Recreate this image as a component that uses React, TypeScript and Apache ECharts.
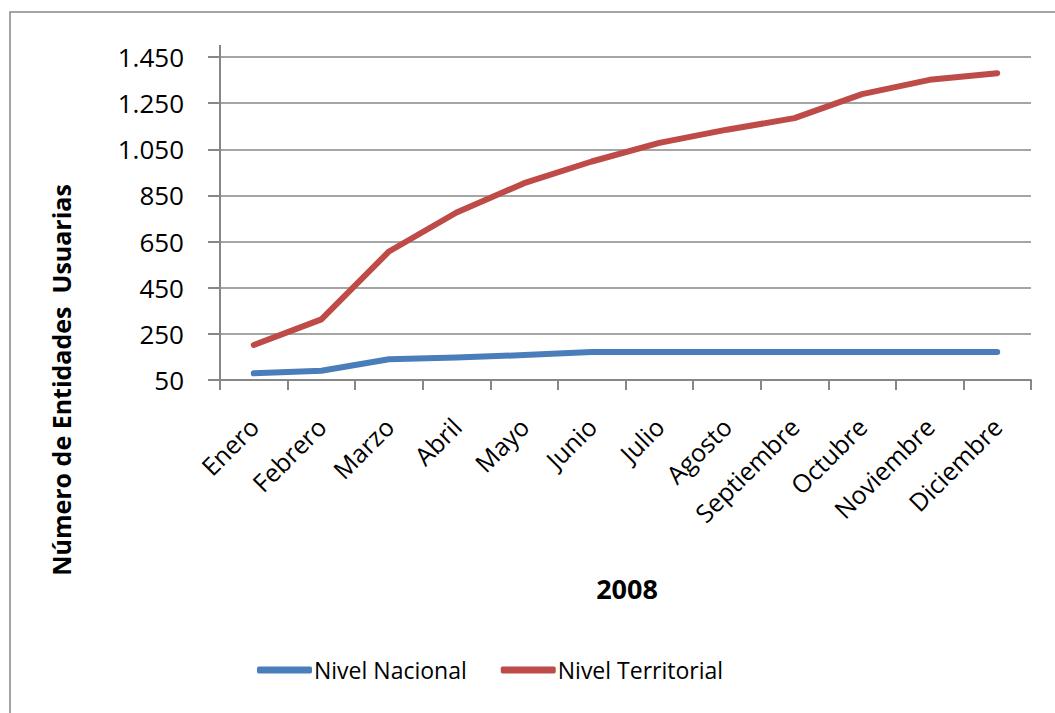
import React, { useEffect, useRef } from "react";
import * as echarts from "echarts";

const months = ["Enero", "Febrero", "Marzo", "Abril", "Mayo", "Junio", "Julio", "Agosto", "Septiembre", "Octubre", "Noviembre", "Diciembre"];
const nacional = [79, 90, 140, 148, 158, 171, 171, 171, 171, 171, 171, 171];
const territorial = [202, 313, 607, 776, 903, 997, 1078, 1135, 1185, 1289, 1351, 1380];
const seriesNames = ["Nivel Nacional", "Nivel Territorial"];
const yMin = 50;
const yMax = 1450;
const yStep = 200;
const yTitle = "Número de Entidades  Usuarias";
const xTitle = "2008";

const FONT = "'Open Sans', sans-serif";
const GRAY = "#878787";

const fmt = (v: number) => String(v).replace(/\B(?=(\d{3})+(?!\d))/g, ".");

export default function App() {
  const ref = useRef<HTMLDivElement>(null);
  useEffect(() => {
    if (!ref.current) return;
    const chart = echarts.init(ref.current, null, { renderer: "svg" });
    chart.setOption({
      animation: false,
      backgroundColor: "#ffffff",
      textStyle: { fontFamily: FONT },
      grid: { left: 220, right: 24, top: 57, bottom: 333, containLabel: false },
      xAxis: {
        type: "category",
        data: months,
        boundaryGap: true,
        axisLine: { lineStyle: { color: GRAY, width: 2 } },
        axisTick: { show: true, length: 10, lineStyle: { color: GRAY, width: 2 } },
        axisLabel: { rotate: 45, margin: 42, color: "#000", fontSize: 25, fontFamily: FONT, interval: 0 },
        splitLine: { show: false },
      },
      yAxis: {
        type: "value",
        min: yMin,
        max: yMax,
        interval: yStep,
        axisLine: { show: true, lineStyle: { color: GRAY, width: 2 } },
        axisTick: { show: true, length: 12, lineStyle: { color: GRAY, width: 2 } },
        axisLabel: { margin: 36, color: "#000", fontSize: 26, fontFamily: FONT, formatter: (v: number) => fmt(v) },
        splitLine: { show: true, lineStyle: { color: GRAY, width: 1.5 } },
      },
      legend: {
        left: 252,
        top: 651,
        itemWidth: 55,
        itemHeight: 7,
        itemGap: 34,
        icon: "roundRect",
        textStyle: { color: "#000", fontSize: 23, fontFamily: FONT, lineHeight: 28, padding: [0, 0, 0, -3] },
        data: seriesNames,
      },
      series: [
        {
          name: seriesNames[0],
          type: "line",
          data: nacional,
          symbol: "none",
          color: "#4a7ebb",
          lineStyle: { width: 6, color: "#4a7ebb", cap: "round", join: "round" },
        },
        {
          name: seriesNames[1],
          type: "line",
          data: territorial,
          symbol: "none",
          color: "#be4b48",
          lineStyle: { width: 6, color: "#be4b48", cap: "round", join: "round" },
        },
      ],
      graphic: [
        { type: "rect", shape: { x: 10, y: 12, width: 1100, height: 800 }, style: { fill: "none", stroke: GRAY, lineWidth: 1.5 }, silent: true },
        { type: "line", shape: { x1: 220, y1: 45, x2: 220, y2: 57 }, style: { stroke: GRAY, lineWidth: 2 } },
        {
          type: "text",
          x: 61,
          y: 380,
          rotation: Math.PI / 2,
          style: { text: yTitle, fontFamily: FONT, fontWeight: "bold", fontSize: 25, fill: "#000", align: "center", verticalAlign: "middle" },
        },
        {
          type: "text",
          x: 627,
          y: 588,
          style: { text: xTitle, fontFamily: FONT, fontWeight: "bold", fontSize: 27, fill: "#000", align: "center", verticalAlign: "middle" },
        },
      ],
    });
    return () => chart.dispose();
  }, []);
  return <div ref={ref} style={{ position: "fixed", left: 0, top: 0, width: 1055, height: 713 }} />;
}
